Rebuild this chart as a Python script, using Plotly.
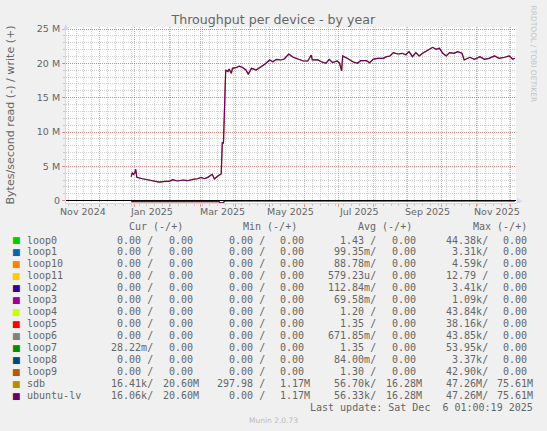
import plotly.graph_objects as go

# === values read off the munin "diskstats throughput" year graph (MB/s) ===
# sdb and ubuntu-lv are the same at this scale, the loops stay at zero
WRITE_DATES = [
    "2024-12-29", "2024-12-30", "2024-12-31", "2025-01-01", "2025-01-02", "2025-01-03",
    "2025-01-08", "2025-01-14", "2025-01-19", "2025-01-23", "2025-01-28", "2025-02-01",
    "2025-02-04", "2025-02-08", "2025-02-13", "2025-02-17", "2025-02-22", "2025-02-26",
    "2025-03-01", "2025-03-04", "2025-03-07", "2025-03-11", "2025-03-13", "2025-03-16",
    "2025-03-19", "2025-03-20", "2025-03-21", "2025-03-23", "2025-03-25", "2025-03-26",
    "2025-03-28", "2025-03-29", "2025-04-01", "2025-04-04", "2025-04-07", "2025-04-10",
    "2025-04-12", "2025-04-15", "2025-04-19", "2025-04-21", "2025-04-24", "2025-04-27",
    "2025-05-01", "2025-05-04", "2025-05-07", "2025-05-11", "2025-05-14", "2025-05-18",
    "2025-05-22", "2025-05-26", "2025-05-31", "2025-06-04", "2025-06-07", "2025-06-08",
    "2025-06-13", "2025-06-16", "2025-06-20", "2025-06-23", "2025-06-26", "2025-06-30",
    "2025-07-02", "2025-07-04", "2025-07-05", "2025-07-09", "2025-07-14", "2025-07-18",
    "2025-07-21", "2025-07-26", "2025-07-29", "2025-08-01", "2025-08-05", "2025-08-10",
    "2025-08-13", "2025-08-16", "2025-08-19", "2025-08-23", "2025-08-27", "2025-08-30",
    "2025-09-02", "2025-09-05", "2025-09-08", "2025-09-11", "2025-09-14", "2025-09-19",
    "2025-09-23", "2025-09-26", "2025-09-29", "2025-10-02", "2025-10-05", "2025-10-08",
    "2025-10-12", "2025-10-15", "2025-10-19", "2025-10-21", "2025-10-26", "2025-10-30",
    "2025-11-04", "2025-11-08", "2025-11-12", "2025-11-17", "2025-11-21", "2025-11-26",
    "2025-11-30", "2025-12-03", "2025-12-05",
]
WRITE_MB = [
    3.50, 4.08, 3.84, 3.99, 4.57, 3.40,
    3.20, 3.01, 2.82, 2.72, 2.82, 2.82,
    3.06, 2.87, 3.01, 2.91, 3.11, 3.20,
    3.40, 3.20, 3.40, 3.84, 3.16, 3.60,
    3.89, 8.45, 8.40, 19.03, 18.80, 19.18,
    18.55, 19.27, 19.37, 19.60, 19.40, 19.03,
    18.45, 19.27, 19.03, 19.27, 19.50, 19.90,
    20.49, 20.24, 20.59, 20.49, 20.63, 21.36,
    20.88, 20.63, 20.34, 20.34, 21.21, 20.49,
    20.49, 20.24, 20.00, 20.59, 20.10, 20.34,
    20.10, 18.93, 21.07, 20.73, 20.24, 20.00,
    20.39, 20.39, 20.10, 20.59, 20.73, 20.73,
    20.97, 21.07, 21.55, 21.36, 21.46, 21.26,
    21.70, 20.97, 21.55, 21.07, 21.46, 21.94,
    22.33, 22.04, 22.19, 21.46, 21.07, 21.55,
    21.46, 21.70, 21.46, 20.49, 20.88, 20.59,
    20.97, 20.59, 20.73, 21.07, 20.73, 20.88,
    21.07, 20.63, 20.73,
]
# reads are drawn negative (munin "read (-) / write (+)")
READ_DATES = ["2024-12-29", "2025-03-17", "2025-03-18", "2025-03-21", "2025-03-22", "2025-12-05"]
READ_MB = [-0.14, -0.14, -0.30, -0.30, -0.03, -0.03]

START = "2024-11-01 01:00"
END = "2025-12-06 01:00"

Y_TICKS = [0, 5, 10, 15, 20, 25]
Y_TICK_TEXT = ["0", "5 M", "10 M", "15 M", "20 M", "25 M"]
X_LABELS = ["Nov 2024", "Jan 2025", "Mar 2025", "May 2025", "Jul 2025", "Sep 2025", "Nov 2025"]
X_LABEL_AT = ["2024-11-16 11:00", "2025-01-16 06:00", "2025-03-20 10:00", "2025-05-19 20:00",
              "2025-07-19 08:00", "2025-09-18 06:00", "2025-11-19 10:00"]

# === legend table ===
NAMES = ["loop0", "loop1", "loop10", "loop11", "loop2", "loop3", "loop4",
         "loop5", "loop6", "loop7", "loop8", "loop9", "sdb", "ubuntu-lv"]
COLORS = ["#00CC00", "#0066B3", "#FF8000", "#FFCC00", "#330099", "#990099", "#CCFF00",
          "#FF0000", "#808080", "#008F00", "#00487D", "#B35A00", "#B38F00", "#6B006B"]
CUR_READ = ["0.00"] * 9 + ["28.22m", "0.00", "0.00", "16.41k", "16.06k"]
CUR_WRITE = ["0.00"] * 12 + ["20.60M", "20.60M"]
MIN_READ = ["0.00"] * 12 + ["297.98", "0.00"]
MIN_WRITE = ["0.00"] * 12 + ["1.17M", "1.17M"]
AVG_READ = ["1.43", "99.35m", "88.78m", "579.23u", "112.84m", "69.58m", "1.20",
            "1.35", "671.85m", "1.35", "84.00m", "1.30", "56.70k", "56.33k"]
AVG_WRITE = ["0.00"] * 12 + ["16.28M", "16.28M"]
MAX_READ = ["44.38k", "3.31k", "4.59k", "12.79", "3.41k", "1.09k", "43.84k",
            "38.16k", "43.85k", "53.95k", "3.37k", "42.90k", "47.26M", "47.26M"]
MAX_WRITE = ["0.00"] * 12 + ["75.61M", "75.61M"]
HEADERS = ["Cur (-/+)", "Min (-/+)", "Avg (-/+)", "Max (-/+)"]
LAST_UPDATE = "Last update: Sat Dec  6 01:00:19 2025"

# page geometry (pixels)
W, H = 547, 431
PL, PT, PW, PH = 66, 27, 450, 176
FONT = "#666666"
AXIS = "#CFD6F8"
MGRID = "rgba(235,60,60,0.5)"
GRID = "rgba(150,150,150,0.45)"


def px_x(px):
    return (px - PL) / PW


def px_y(py):
    return (PT + PH - py) / PH


def gprint(s, slash=False):
    if s[-1].isalpha():
        num, unit = s[:-1], s[-1]
    else:
        num, unit = s, " "
    out = f"{num:>6}{unit}" + ("/" if slash else "")
    return out.replace(" ", "\u00a0")


fig = go.Figure()
for name, color in [("sdb", "#B38F00"), ("ubuntu-lv", "#6B006B")]:
    fig.add_trace(go.Scatter(x=WRITE_DATES, y=WRITE_MB, mode="lines", name=name,
                             line=dict(color=color, width=1.2), hoverinfo="skip"))
    fig.add_trace(go.Scatter(x=READ_DATES, y=READ_MB, mode="lines", name=name,
                             line=dict(color=color, width=1.2), hoverinfo="skip"))

ann = []


def text(x, y, s, size=10, family="DejaVu Sans Mono", color=FONT, xanchor="left", angle=0):
    ann.append(dict(x=x, y=y, xref="paper", yref="paper", text=s, showarrow=False,
                    xanchor=xanchor, yanchor="middle", textangle=angle,
                    borderpad=0, borderwidth=0,
                    font=dict(family=family, size=size, color=color)))


# x labels, placed through the date axis
for lab, at in zip(X_LABELS, X_LABEL_AT):
    ann.append(dict(x=at, y=px_y(211.5), xref="x", yref="paper", text=lab, showarrow=False,
                    xanchor="center", yanchor="middle", borderpad=0, borderwidth=0,
                    font=dict(family="DejaVu Sans", size=9.5, color=FONT)))

# legend table
for hx, h in zip([129.3, 243.3, 357.5, 472.8], HEADERS):
    text(px_x(hx), px_y(226.7), h.replace(" ", "\u00a0"))
cols = [(CUR_READ, True, 104.8), (CUR_WRITE, False, 156.5),
        (MIN_READ, True, 216.5), (MIN_WRITE, False, 268.3),
        (AVG_READ, True, 327.5), (AVG_WRITE, False, 379.7),
        (MAX_READ, True, 439.5), (MAX_WRITE, False, 491.2)]
for i, (name, color) in enumerate(zip(NAMES, COLORS)):
    ry = px_y(240 + i * 11.97)
    text(px_x(16.7), ry, "■", size=9, family="DejaVu Sans", color=color, xanchor="center")
    text(px_x(26.7), ry, name)
    for vals, slash, cx in cols:
        text(px_x(cx), ry, gprint(vals[i], slash))
text(px_x(532.7), px_y(407.7), LAST_UPDATE.replace(" ", "\u00a0"), xanchor="right")
text(px_x(273), px_y(420), "Munin 2.0.73", size=7.5, family="DejaVu Sans",
     color="#BBBBBB", xanchor="center")
text(px_x(533), px_y(53.5), "RRDTOOL / TOBI OETIKER", size=7.5, family="DejaVu Sans",
     color="#C4C4C4", xanchor="center", angle=90)
text(px_x(9.6), 0.5, "Bytes/second read (-) / write (+)", size=11.1, family="DejaVu Sans",
     xanchor="center", angle=-90)
# axis arrows
text(px_x(66), px_y(27), "▲", size=7, family="DejaVu Sans", color=AXIS, xanchor="center")
text(px_x(520), px_y(201), "▶", size=7, family="DejaVu Sans", color=AXIS, xanchor="center")

fig.update_layout(
    width=W, height=H,
    margin=dict(l=PL, r=W - PL - PW, t=PT, b=H - PT - PH),
    paper_bgcolor="#F0F0F0", plot_bgcolor="#FFFFFF",
    showlegend=False,
    title=dict(text="Throughput per device - by year", x=273.3 / W, xref="container",
               xanchor="center", y=1 - 19.5 / H, yref="container", yanchor="middle",
               font=dict(family="DejaVu Sans", size=12.6, color=FONT)),
    annotations=ann,
    xaxis=dict(type="date", range=[START, END], tickmode="linear", tick0="2024-11-01",
               dtick="M1", showticklabels=False, showgrid=True, gridcolor=MGRID,
               griddash="1px,1px", gridwidth=1, ticks="outside", ticklen=3, tickcolor=MGRID,
               showline=True, linecolor=AXIS, linewidth=1,
               minor=dict(tickmode="linear", tick0="2024-11-03", dtick=7 * 86400000,
                          showgrid=True, gridcolor=GRID, griddash="1px,1px",
                          ticks="outside", ticklen=2, tickcolor=GRID)),
    yaxis=dict(range=[-0.335, 25.291], tickmode="array", tickvals=Y_TICKS,
               ticktext=Y_TICK_TEXT, showgrid=True, gridcolor=MGRID, griddash="1px,1px",
               ticks="outside", ticklen=3, tickcolor=MGRID,
               tickfont=dict(family="DejaVu Sans", size=9.5, color=FONT),
               zeroline=True, zerolinecolor="#000000", zerolinewidth=1,
               showline=True, linecolor=AXIS, linewidth=1,
               minor=dict(tickmode="linear", tick0=0, dtick=1, showgrid=True,
                          gridcolor=GRID, griddash="1px,1px",
                          ticks="outside", ticklen=2, tickcolor=GRID)),
)
try:
    fig.update_yaxes(zerolinelayer="above traces")
except ValueError:
    pass

# the page body keeps its default 8px margin otherwise
fig.write_html("out.html", config={"displayModeBar": False},
               post_script="document.body.style.margin='0';"
                           "document.body.style.background='#F0F0F0';")
